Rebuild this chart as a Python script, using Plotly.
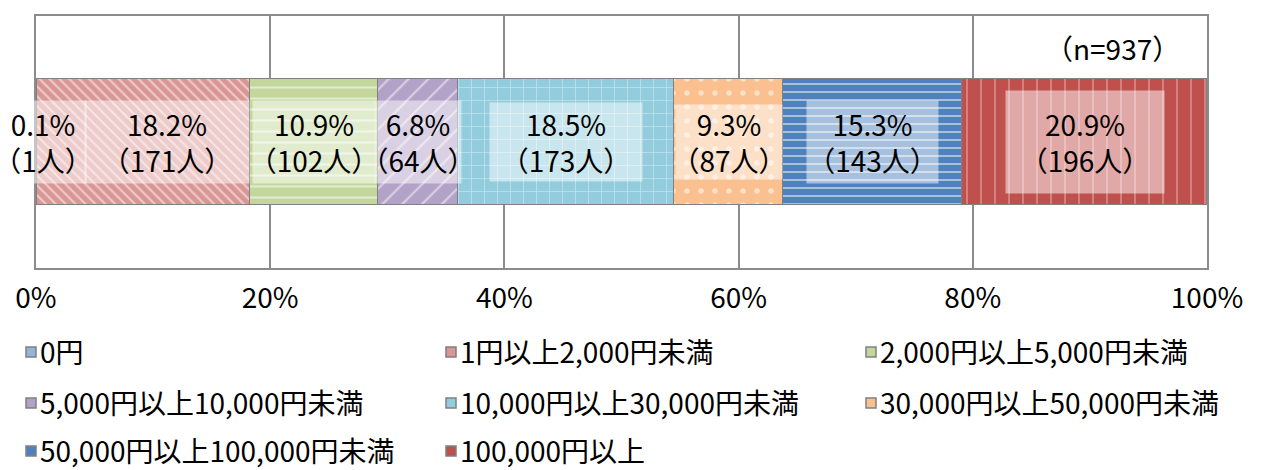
import plotly.graph_objects as go

# ---- data ----
categories = ["0円", "1円以上2,000円未満", "2,000円以上5,000円未満", "5,000円以上10,000円未満",
              "10,000円以上30,000円未満", "30,000円以上50,000円未満", "50,000円以上100,000円未満", "100,000円以上"]
percents = [0.1, 18.2, 10.9, 6.8, 18.5, 9.3, 15.3, 20.9]
counts = [1, 171, 102, 64, 173, 87, 143, 196]
tick_values = [0, 20, 40, 60, 80, 100]
tick_labels = ["0%", "20%", "40%", "60%", "80%", "100%"]
n_label = "（n=937）"

# ---- styles ----
colors = ["#95B3D7", "#D99694", "#C3D69B", "#B3A2C7", "#93CDDD", "#FAC090", "#4F81BD", "#C0504D"]
shapes_pat = ["", "\\", "-", "/", "+", ".", "-", "|"]
pat_size = [8, 7, 11, 14, 13, 14, 8, 14]
pat_sol = [0.2, 0.3, 0.2, 0.15, 0.1, 0.12, 0.25, 0.08]
label_box_w = [84, 162, 120, 84, 150, 104, 129, 156]
label_box_h = [80, 80, 80, 80, 76, 72, 80, 100]
label_xshift = [6, 23, 0, 0, 0, 0, 0, 0]

FONT = "Noto Sans CJK JP, Noto Sans, sans-serif"
FS = 28
OFF = 8  # page body margin
W, H = 1261 - OFF, 470 - OFF
ML, MR, MT = 36 - OFF, 54, 14 - OFF
PLOT_BOTTOM = 268 - OFF
MB = H - PLOT_BOTTOM
PW = W - ML - MR
PH = H - MT - MB

fig = go.Figure()
for i, c in enumerate(categories):
    fig.add_trace(go.Bar(
        x=[percents[i]], y=[0], orientation="h", name=c, width=1.0,
        marker=dict(color=colors[i], line=dict(color="#808080", width=1.5),
                    pattern=dict(shape=shapes_pat[i], fgcolor="white", bgcolor=colors[i],
                                 size=pat_size[i], solidity=pat_sol[i], fillmode="overlay")),
        showlegend=False, hoverinfo="skip"))

annotations = []
cum = 0.0
for i, p in enumerate(percents):
    mid = cum + p / 2
    cum += p
    annotations.append(dict(
        x=mid, y=0, xref="x", yref="y", xshift=label_xshift[i],
        text=f"{p}%<br>（{counts[i]}人）", showarrow=False,
        font=dict(family=FONT, size=FS, color="#000000"),
        bgcolor="rgba(255,255,255,0.5)", width=label_box_w[i], height=label_box_h[i],
        align="center", valign="middle"))

def px_x(px):  # page pixel -> paper
    return (px - OFF - ML) / PW

def px_y(py):
    return (PLOT_BOTTOM - (py - OFF)) / PH

annotations.append(dict(x=px_x(1182), y=px_y(46), xref="paper", yref="paper", xanchor="right",
                        yanchor="middle", text=n_label, showarrow=False,
                        font=dict(family=FONT, size=FS, color="#000000")))

# manual legend (3 columns, row-major)
col_x = [26, 446, 866]
row_y = [352, 403, 451]
shapes = []
for i, c in enumerate(categories):
    r, k = divmod(i, 3)
    sx = col_x[k]
    cy = row_y[r]
    cyf = cy - OFF
    shapes.append(dict(type="rect", xref="paper", yref="paper", xsizemode="pixel", ysizemode="pixel",
                       xanchor=0, yanchor=0,
                       x0=sx - OFF - ML, x1=sx - OFF - ML + 10,
                       y0=PLOT_BOTTOM - cyf - 5, y1=PLOT_BOTTOM - cyf + 5,
                       fillcolor=colors[i], line=dict(color="#808080", width=1.5)))
    annotations.append(dict(x=px_x(sx + 13), y=px_y(cy), xref="paper", yref="paper",
                            xanchor="left", yanchor="middle", text=c, showarrow=False,
                            borderpad=0,
                            font=dict(family=FONT, size=FS, color="#000000")))

fig.update_layout(
    width=W, height=H, barmode="stack", bargap=0,
    margin=dict(l=ML, r=MR, t=MT, b=MB, pad=0),
    paper_bgcolor="white", plot_bgcolor="white",
    font=dict(family=FONT, size=FS, color="#000000"),
    xaxis=dict(range=[0, 100], tickmode="array", tickvals=tick_values, ticktext=tick_labels,
               showgrid=True, gridcolor="#8c8c8c", gridwidth=1.5, showline=True,
               linecolor="#8c8c8c", linewidth=2, mirror=True, zeroline=False, ticks="",
               ticklabelstandoff=4, tickfont=dict(family=FONT, size=FS, color="#000000")),
    yaxis=dict(range=[-1, 1], showticklabels=False, showgrid=False, zeroline=False,
               showline=True, linecolor="#8c8c8c", linewidth=2, mirror=True),
    annotations=annotations, shapes=shapes,
)

fig.write_html("out.html")
